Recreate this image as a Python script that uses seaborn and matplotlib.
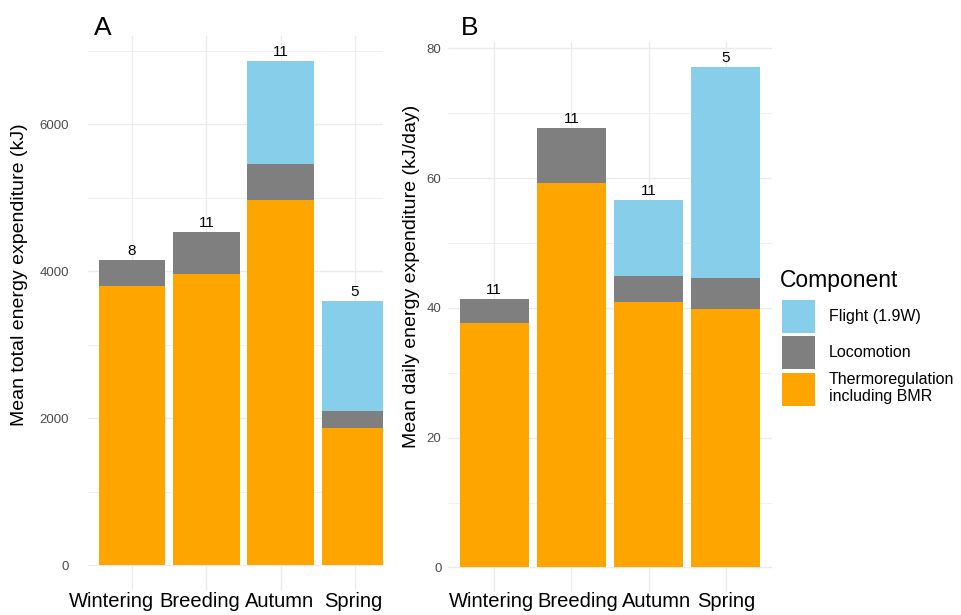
import pandas as pd
import matplotlib.pyplot as plt
import matplotlib.transforms as mtransforms
from matplotlib.patches import Patch
from matplotlib.ticker import MultipleLocator
import seaborn as sns

# Data
seasons = ['Wintering', 'Breeding', 'Autumn', 'Spring']
components = ['Flight (1.9W)', 'Locomotion', 'Thermoregulation\nincluding BMR']
comp_colors = ['#87CEEB', '#7F7F7F', '#FFA500']

# A - mean total energy expenditure (kJ)
total_thermo = [3800, 3960, 4965, 1870]
total_loco = [350, 575, 490, 225]
total_flight = [0, 0, 1405, 1500]
total_n = [8, 11, 11, 5]

# B - mean daily energy expenditure (kJ/day)
daily_thermo = [37.7, 59.2, 40.9, 39.9]
daily_loco = [3.7, 8.5, 4.0, 4.7]
daily_flight = [0, 0, 11.7, 32.5]
daily_n = [11, 11, 11, 5]

sns.set_theme(style='white')
plt.rcParams['font.family'] = ['Liberation Sans', 'DejaVu Sans']
plt.rcParams['text.color'] = 'black'
plt.rcParams['axes.labelcolor'] = 'black'

fig = plt.figure(figsize=(9.61, 6.15), dpi=100)
ax_a = fig.add_axes([0.0916, 0.0403, 0.307, 0.9015])
ax_b = fig.add_axes([0.4662, 0.0366, 0.3371, 0.8948])


def draw_panel(ax, thermo, loco, flight, n, ylabel, ylim, xlim, major, minor,
               ypad, xpad, label_xy, label_shift):
    df = pd.DataFrame({'season': seasons, 'thermo': thermo,
                       'loco': loco, 'flight': flight})
    df['mid'] = df['thermo'] + df['loco']
    df['top'] = df['mid'] + df['flight']

    # stacked bars: draw cumulative heights from the top layer down
    for col, color in zip(['top', 'mid', 'thermo'], comp_colors):
        sns.barplot(data=df, x='season', y=col, order=seasons, color=color,
                    saturation=1, width=0.9, errorbar=None, ax=ax,
                    linewidth=0, edgecolor='none')

    for i, (tot, k) in enumerate(zip(df['top'], n)):
        ax.annotate(str(k), (i, tot), xytext=(0, 1.5), textcoords='offset points',
                    ha='center', va='bottom', fontsize=11, color='black')

    ax.set_ylim(*ylim)
    ax.set_xlim(*xlim)
    ax.yaxis.set_major_locator(MultipleLocator(major))
    ax.yaxis.set_minor_locator(MultipleLocator(minor))
    ax.set_axisbelow(True)
    ax.grid(True, which='major', color='#EBEBEB', lw=1.0)
    ax.grid(True, which='minor', axis='y', color='#EBEBEB', lw=0.5)
    for s in ax.spines.values():
        s.set_visible(False)
    ax.tick_params(axis='both', which='both', length=0)
    ax.tick_params(axis='x', labelsize=14.5, pad=xpad, labelcolor='black')
    ax.tick_params(axis='y', labelsize=9.5, pad=ypad, labelcolor='#4D4D4D')
    ax.set_xlabel('')
    ax.set_ylabel(ylabel, fontsize=14, color='black')
    ax.yaxis.set_label_coords(*label_xy)

    # nudge crowded category labels apart (pixels)
    for lab, dx in zip(ax.get_xticklabels(), label_shift):
        off = mtransforms.ScaledTranslation(dx / 100, 0, fig.dpi_scale_trans)
        lab.set_transform(lab.get_transform() + off)


draw_panel(ax_a, total_thermo, total_loco, total_flight, total_n,
           'Mean total energy expenditure (kJ)', (-343, 7203), (-0.592, 3.377),
           2000, 1000, 13.7, 1.5, (-0.205, 0.570), [-21, -7, -1, -2])
draw_panel(ax_b, daily_thermo, daily_loco, daily_flight, daily_n,
           'Mean daily energy expenditure (kJ/day)', (-3.855, 80.955), (-0.6, 3.6),
           20, 10, 4.7, 0, (-0.085, 0.575), [-3, 6, 8, 1])

fig.text(93.5 / 961, 1 - 35 / 615, 'A', fontsize=19, ha='left', va='baseline')
fig.text(461 / 961, 1 - 35 / 615, 'B', fontsize=19, ha='left', va='baseline')

fig.text(780 / 961, 1 - 287 / 615, 'Component', fontsize=16.5,
         ha='left', va='baseline')
handles = [Patch(facecolor=c, edgecolor='none') for c in comp_colors]
fig.legend(handles, components, loc='upper left',
           bbox_to_anchor=(782 / 961, 1 - 300 / 615), bbox_transform=fig.transFigure,
           frameon=False, fontsize=11.5, borderpad=0, borderaxespad=0,
           handlelength=2.06, handleheight=2.79, handletextpad=0.875,
           labelspacing=0.19)

fig.savefig('out.png', dpi=100)
